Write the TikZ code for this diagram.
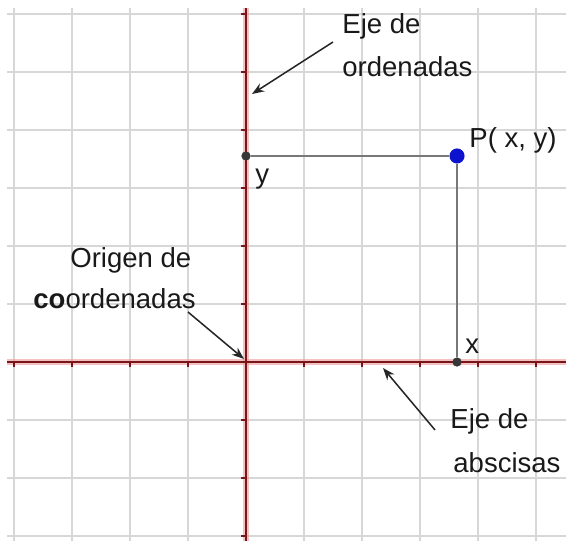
\documentclass[tikz,border=0pt]{standalone}
\usepackage{fontspec}
\setmainfont{Liberation Sans}
\usetikzlibrary{arrows.meta}
\definecolor{gridgray}{RGB}{215,215,215}
\definecolor{axisred}{RGB}{120,22,28}
\definecolor{axishalo}{RGB}{238,150,150}
\definecolor{ptblue}{RGB}{12,18,205}
\definecolor{guidegray}{RGB}{120,120,120}
\definecolor{dotgray}{RGB}{55,55,55}
\begin{document}
\begin{tikzpicture}[x=1cm, y=1cm,
                    gridline/.style={gridgray, line width=1pt},
                    axis/.style={axisred, line width=1.3pt},
                    halo/.style={axishalo, line width=3.2pt, opacity=.6},
                    tick/.style={axisred, line width=1.1pt},
                    guide/.style={guidegray, line width=1.3pt},
                    dot/.style={circle, fill=dotgray, inner sep=0pt, minimum size=0.16cm},
                    pointer/.style={-{Stealth[length=6pt,width=4.5pt]}, line width=.75pt, black!85},
                    lbl/.style={anchor=base west, inner sep=0pt, font=\fontsize{13.5}{16}\selectfont, text=black!90}]
\useasboundingbox (-4.241,-3.086) rectangle (5.517,6.241);
\foreach \i in {-4,...,5}
    \draw[gridline] (\i,-3.086) -- (\i,6.10);
\foreach \j in {-3,...,6}
    \draw[gridline] (-4.12,\j) -- (5.517,\j);
\draw[halo] (-4.12,0) -- (5.517,0);
\draw[halo] (0,-3.086) -- (0,6.10);
\draw[axis] (-4.12,0) -- (5.517,0);
\draw[axis] (0,-3.086) -- (0,6.10);
\foreach \i in {-4,...,5}
    \draw[tick] (\i,0) -- (\i,-0.08);
\foreach \j in {-3,...,6}
    \draw[tick] (0,\j) -- (-0.08,\j);
\node[dot] (ydot) at (0,3.552) {};
\node[dot] (xdot) at (3.638,0) {};
\node[circle, fill=ptblue, inner sep=0pt, minimum size=0.26cm] (P) at (3.638,3.552) {};
\draw[guide] (ydot) -- (P);
\draw[guide] (P) -- (xdot);
\node[lbl] (plabel) at (3.845,3.690) {P( x, y)};
\node[lbl] (ylabel) at (0.155,3.069) {y};
\node[lbl] (xlabel) at (3.776,0.155) {x};
\node[lbl] (ord1) at (1.655,5.672) {Eje de};
\node[lbl] (ord2) at (1.655,4.914) {ordenadas};
\node[lbl] (abs1) at (3.517,-1.138) {Eje de};
\node[lbl] (abs2) at (3.569,-1.897) {abscisas};
\node[lbl] (orig1) at (-3.034,1.621) {Origen de};
\node[lbl] (orig2) at (-3.672,0.931) {\textbf{co}ordenadas};
\coordinate (ordtail) at (1.50,5.517);
\coordinate (ordtip) at (0.103,4.62);
\coordinate (abstail) at (3.259,-1.172);
\coordinate (abstip) at (2.362,-0.103);
\coordinate (origtail) at (-1.0,0.862);
\coordinate (origtip) at (-0.034,0.052);
\draw[pointer] (ordtail) -- (ordtip);
\draw[pointer] (abstail) -- (abstip);
\draw[pointer] (origtail) -- (origtip);
\end{tikzpicture}
\end{document}
